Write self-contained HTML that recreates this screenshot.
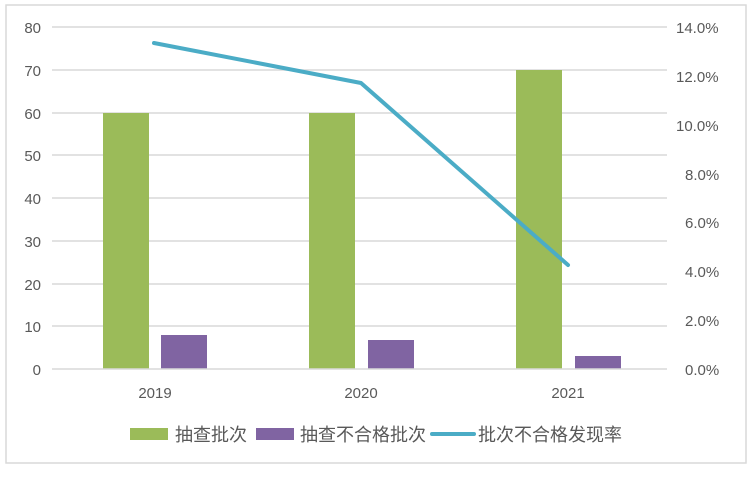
<!DOCTYPE html>
<html><head><meta charset="utf-8"><style>
html,body{margin:0;padding:0;background:#fff;}
svg text{font-family:"Liberation Sans","Noto Sans CJK SC",sans-serif;fill:#595959;}
</style></head><body>
<svg width="752" height="473" viewBox="0 0 752 473" xmlns="http://www.w3.org/2000/svg">
<rect x="6" y="5" width="740" height="458" fill="#fff" stroke="#d9d9d9" stroke-width="1.5"/>
<g stroke="#d9d9d9" stroke-width="1.5">
<line x1="52" x2="667" y1="27" y2="27"/>
<line x1="52" x2="667" y1="70" y2="70"/>
<line x1="52" x2="667" y1="113" y2="113"/>
<line x1="52" x2="667" y1="155" y2="155"/>
<line x1="52" x2="667" y1="198" y2="198"/>
<line x1="52" x2="667" y1="241" y2="241"/>
<line x1="52" x2="667" y1="284" y2="284"/>
<line x1="52" x2="667" y1="326" y2="326"/>
</g>
<g font-size="15" text-anchor="end">
<text x="41" y="33">80</text><text x="41" y="76">70</text><text x="41" y="119">60</text>
<text x="41" y="161">50</text><text x="41" y="204">40</text><text x="41" y="247">30</text>
<text x="41" y="290">20</text><text x="41" y="332">10</text><text x="41" y="375">0</text>
</g>
<g font-size="15" text-anchor="start">
<text x="676" y="33">14.0%</text><text x="676" y="82">12.0%</text><text x="676" y="131">10.0%</text>
<text x="685" y="180">8.0%</text><text x="685" y="228">6.0%</text><text x="685" y="277">4.0%</text>
<text x="685" y="326">2.0%</text><text x="685" y="375">0.0%</text>
</g>
<g fill="#9bbb59">
<rect x="103" y="113" width="46" height="256"/>
<rect x="309" y="113" width="46" height="256"/>
<rect x="516" y="70" width="46" height="299"/>
</g>
<g fill="#8064a2">
<rect x="161" y="335" width="46" height="34"/>
<rect x="368" y="340" width="46" height="29"/>
<rect x="575" y="356" width="46" height="13"/>
</g>
<line x1="52" x2="667" y1="369" y2="369" stroke="#d9d9d9" stroke-width="1.5"/>
<polyline points="154,43 361,83 568,265" fill="none" stroke="#4bacc6" stroke-width="4" stroke-linecap="round" stroke-linejoin="round"/>
<g font-size="15" text-anchor="middle">
<text x="155" y="398">2019</text><text x="361" y="398">2020</text><text x="568" y="398">2021</text>
</g>
<rect x="130" y="428" width="38" height="12" fill="#9bbb59"/>
<text x="175" y="441" font-size="18">抽查批次</text>
<rect x="256" y="428" width="38" height="12" fill="#8064a2"/>
<text x="300" y="441" font-size="18">抽查不合格批次</text>
<line x1="432" x2="474" y1="434" y2="434" stroke="#4bacc6" stroke-width="4" stroke-linecap="round"/>
<text x="478" y="441" font-size="18">批次不合格发现率</text>
</svg>
</body></html>
